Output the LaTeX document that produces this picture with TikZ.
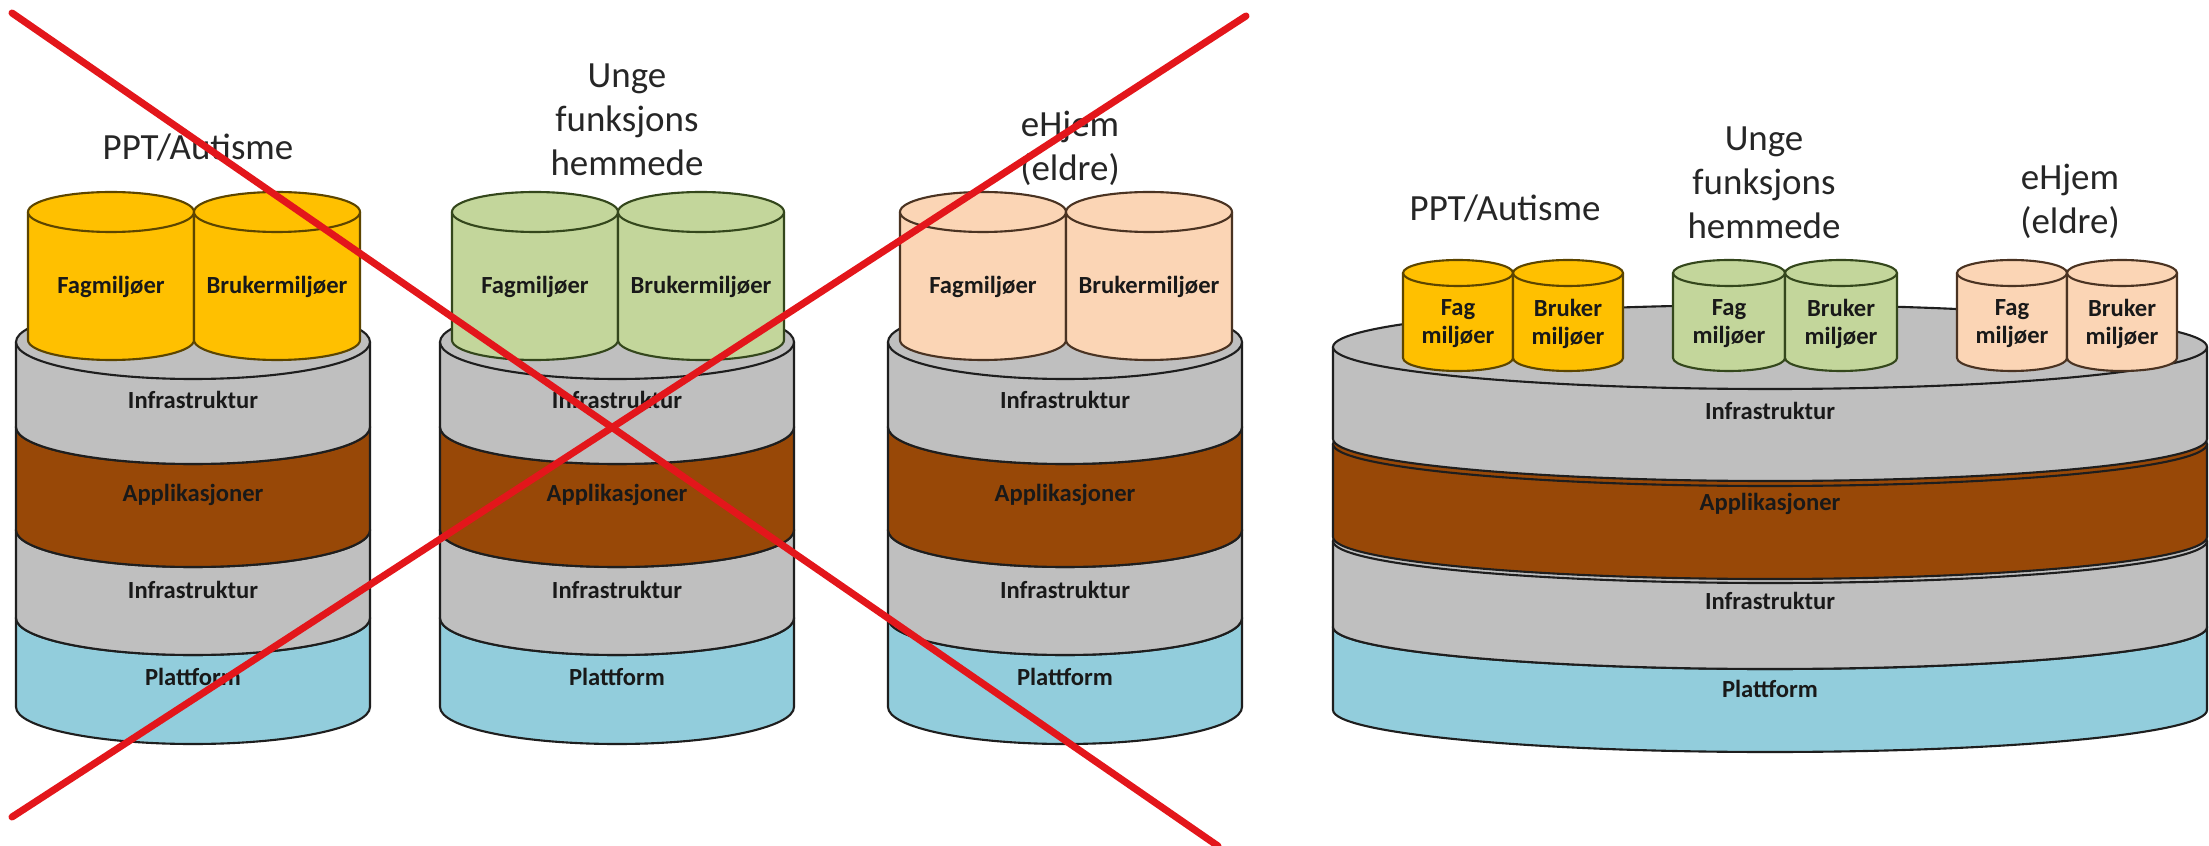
\documentclass[tikz,border=0pt]{standalone}
\usepackage{fontspec}
\setmainfont{Carlito}
\definecolor{cgold}{HTML}{FFC000}
\definecolor{cgoldline}{HTML}{5C4500}
\definecolor{cgreen}{HTML}{C3D69B}
\definecolor{cgreenline}{HTML}{34471C}
\definecolor{cpeach}{HTML}{FBD5B5}
\definecolor{cpeachline}{HTML}{4A3322}
\definecolor{cgray}{HTML}{BFBFBF}
\definecolor{cbrown}{HTML}{984807}
\definecolor{cblue}{HTML}{92CDDC}
\definecolor{cline}{HTML}{1E1E1E}
\definecolor{cred}{HTML}{E3161B}
\definecolor{ctitle}{HTML}{262626}
\newcommand\cyllayer[7]{%
  \filldraw[fill=#6,draw=#7,line width=0.6pt,line join=round]
    (#1-#4,-#2) -- (#1-#4,-#3)
    arc[start angle=180,end angle=360,x radius=#4*0.01cm,y radius=#5*0.01cm]
    -- (#1+#4,-#2) -- cycle;
  \filldraw[fill=#6,draw=#7,line width=0.6pt] (#1,-#2) ellipse[x radius=#4*0.01cm,y radius=#5*0.01cm];
}
\newcommand\narrowstack[1]{%
  \cyllayer{#1}{618}{707}{177}{37}{cblue}{cline}
  \cyllayer{#1}{530}{618}{177}{37}{cgray}{cline}
  \cyllayer{#1}{427}{530}{177}{37}{cbrown}{cline}
  \cyllayer{#1}{342}{427}{177}{37}{cgray}{cline}
}
\begin{document}
\begin{tikzpicture}[x=0.01cm,y=0.01cm,
  title/.style={font=\fontsize{10.5}{12.5}\selectfont,text=ctitle,align=center,inner sep=0pt},
  lbl/.style={font=\bfseries\fontsize{7}{8}\selectfont,text=black!90,align=center,inner sep=0pt},
  crossline/.style={draw=cred,line width=2pt,line cap=round}]
\useasboundingbox (0,0) rectangle (2209,-846);
\fill[white] (0,0) rectangle (2209,-846);

% ---------- left: three separate stacks ----------
\narrowstack{193}
\narrowstack{617}
\narrowstack{1065}

\cyllayer{111}{212}{340}{83}{20}{cgold}{cgoldline}
\cyllayer{277}{212}{340}{83}{20}{cgold}{cgoldline}
\cyllayer{535}{212}{340}{83}{20}{cgreen}{cgreenline}
\cyllayer{701}{212}{340}{83}{20}{cgreen}{cgreenline}
\cyllayer{983}{212}{340}{83}{20}{cpeach}{cpeachline}
\cyllayer{1149}{212}{340}{83}{20}{cpeach}{cpeachline}

\node[title] (t1) at (198,-147) {PPT/Autisme};
\node[title] (t2) at (627,-120) {Unge\\funksjons\\hemmede};
\node[title] (t3) at (1070,-148) {eHjem\\(eldre)};

\foreach \c/\n in {193/a,617/b,1065/c}{
  \node[lbl] (\n infra1) at (\c,-400) {Infrastruktur};
  \node[lbl] (\n app) at (\c,-495) {Applikasjoner};
  \node[lbl] (\n infra2) at (\c,-590) {Infrastruktur};
  \node[lbl] (\n plat) at (\c,-677) {Plattform};
}
\foreach \x/\n in {111/a,535/b,983/c}{
  \node[lbl] (\n fag) at (\x,-287) {Fagmiljøer};
}
\foreach \x/\n in {277/a,701/b,1149/c}{
  \node[lbl] (\n bruker) at (\x,-287) {Brukermiljøer};
}

% ---------- red cross ----------
\coordinate (xa1) at (12,-13);
\coordinate (xa2) at (1218,-846);
\coordinate (xb1) at (12,-817);
\coordinate (xb2) at (1246,-16);
\draw[crossline] (xa1) -- (xa2);
\draw[crossline] (xb1) -- (xb2);

% ---------- right: one shared stack ----------
\cyllayer{1770}{627}{710}{437}{42}{cblue}{cline}
\cyllayer{1770}{541}{627}{437}{42}{cgray}{cline}
\cyllayer{1770}{444}{537}{437}{42}{cbrown}{cline}
\cyllayer{1770}{347}{439}{437}{42}{cgray}{cline}

\cyllayer{1458}{273}{358}{55}{13}{cgold}{cgoldline}
\cyllayer{1568}{273}{358}{55}{13}{cgold}{cgoldline}
\cyllayer{1729}{273}{358}{56}{13}{cgreen}{cgreenline}
\cyllayer{1841}{273}{358}{56}{13}{cgreen}{cgreenline}
\cyllayer{2012}{273}{358}{55}{13}{cpeach}{cpeachline}
\cyllayer{2122}{273}{358}{55}{13}{cpeach}{cpeachline}

\node[title] (rt1) at (1505,-208) {PPT/Autisme};
\node[title] (rt2) at (1764,-183) {Unge\\funksjons\\hemmede};
\node[title] (rt3) at (2070,-201) {eHjem\\(eldre)};

\node[lbl] (rinfra1) at (1770,-411) {Infrastruktur};
\node[lbl] (rapp) at (1770,-504) {Applikasjoner};
\node[lbl] (rinfra2) at (1770,-601) {Infrastruktur};
\node[lbl] (rplat) at (1770,-689) {Plattform};

\node[lbl] (rfag1) at (1458,-324) {Fag\\miljøer};
\node[lbl] (rbru1) at (1568,-324) {Bruker\\miljøer};
\node[lbl] (rfag2) at (1729,-324) {Fag\\miljøer};
\node[lbl] (rbru2) at (1841,-324) {Bruker\\miljøer};
\node[lbl] (rfag3) at (2012,-324) {Fag\\miljøer};
\node[lbl] (rbru3) at (2122,-324) {Bruker\\miljøer};
\end{tikzpicture}
\end{document}
